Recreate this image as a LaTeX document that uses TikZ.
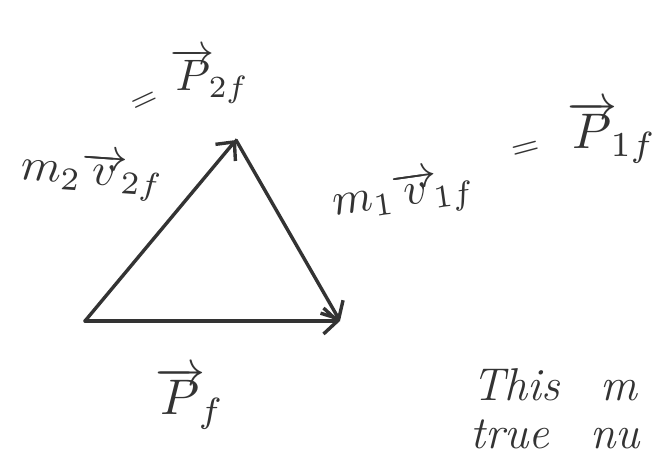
\documentclass[tikz,border=0pt]{standalone}
\usetikzlibrary{arrows.meta}
\definecolor{ink}{HTML}{333333}
\begin{document}
\begin{tikzpicture}[x=1pt,y=-1pt,
  vec/.style={draw=ink,line width=3.4pt,line cap=round,-{Straight Barb[length=14pt,width=26pt,line width=3.4pt]}},
  lab/.style={text=ink,inner sep=0pt},
  note/.style={text=ink,inner sep=0pt,anchor=base west,font=\fontsize{46}{50}\selectfont\itshape}]
\useasboundingbox (0,0) rectangle (656,471);
\clip (0,0) rectangle (656,471);
\fill[white] (0,0) rectangle (656,471);
\coordinate (A) at (85,321);
\coordinate (B) at (236,140);
\coordinate (C) at (340,321);
\draw[vec] (A) -- (B);
\draw[vec] (B) -- (C);
\draw[vec] (A) -- (C);
\node[lab,scale=4.4] (p2f) at (210,76) {$\overrightarrow{P}_{\!2f}$};
\node[lab,scale=3.4,rotate=25] (eq2) at (145,102) {$=$};
\node[lab,scale=4.6,rotate=-4] (m2v) at (92,175) {$m_2\overrightarrow{v}_{\!2f}$};
\node[lab,scale=4.6,rotate=8] (m1v) at (404,196) {$m_1\overrightarrow{v}_{\!1f}$};
\node[lab,scale=3.6,rotate=15] (eq1) at (526,150) {$=$};
\node[lab,scale=5] (p1f) at (612,132) {$\overrightarrow{P}_{\!1f}$};
\node[lab,scale=5] (pf) at (190,398) {$\overrightarrow{P}_{\!f}$};
\node[note] (l1) at (472,400) {This\hspace{0.9em}m};
\node[note] (l2) at (470,448) {true\hspace{0.9em}nu};
\end{tikzpicture}
\end{document}
